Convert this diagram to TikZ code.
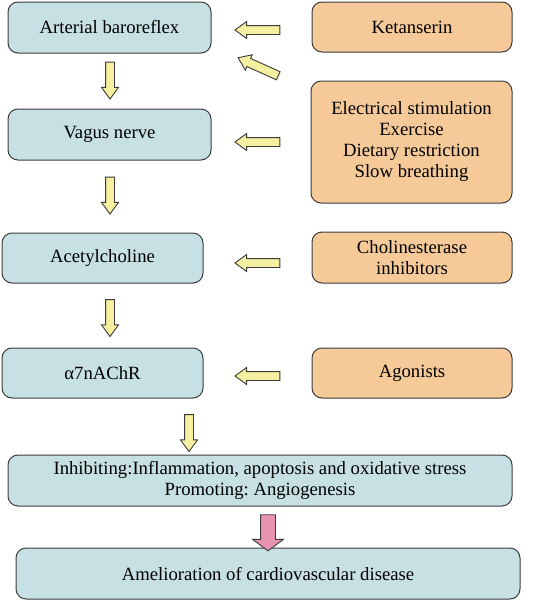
\documentclass[tikz,border=0pt]{standalone}
\usepackage{fontspec}
\setmainfont{Liberation Serif}
\usetikzlibrary{shapes.arrows}
\definecolor{boxblue}{RGB}{199,224,227}
\definecolor{boxorange}{RGB}{245,201,152}
\definecolor{arrowyellow}{RGB}{245,240,160}
\definecolor{arrowpink}{RGB}{230,148,178}
\definecolor{edgegray}{RGB}{60,60,60}
\tikzset{
  basebox/.style={draw=edgegray, line width=1pt, rounded corners=10pt, align=center,
    font=\fontsize{18.7}{21}\selectfont, inner sep=2pt},
  bluebox/.style={basebox, fill=boxblue},
  orangebox/.style={basebox, fill=boxorange},
  blockarr/.style={single arrow, draw=edgegray, line width=0.9pt, fill=arrowyellow,
    inner sep=4pt, single arrow head extend=4pt, single arrow tip angle=72, anchor=center},
  leftarr/.style={blockarr, shape border rotate=180, minimum height=45pt},
  downarr/.style={blockarr, shape border rotate=270, minimum height=37pt},
}
\begin{document}
\frenchspacing
\begin{tikzpicture}[x=1pt,y=-1pt]
\useasboundingbox (0,0) rectangle (533,600);
% left column
\node[bluebox, minimum width=203pt, minimum height=51pt] (baro) at (109.5,27.5) {Arterial baroreflex};
\node[bluebox, minimum width=203pt, minimum height=51pt] (vagus) at (109.5,134.5) {Vagus nerve};
\node[bluebox, minimum width=201pt, minimum height=50pt] (ach) at (102.5,258) {Acetylcholine};
\node[bluebox, minimum width=201pt, minimum height=50pt] (nachr) at (102.5,373) {α7nAChR};
\node[bluebox, minimum width=504pt, minimum height=51pt] (effect) at (260,480.5) {Inhibiting:Inflammation, apoptosis and oxidative stress\\Promoting: Angiogenesis};
\node[bluebox, minimum width=504pt, minimum height=51pt] (amel) at (268,573.5) {Amelioration of cardiovascular disease};
% right column
\node[orangebox, minimum width=200pt, minimum height=50pt] (ket) at (412,27) {Ketanserin};
\node[orangebox, minimum width=201pt, minimum height=122pt] (stim) at (411.5,142) {Electrical stimulation\\Exercise\\Dietary restriction\\Slow breathing};
\node[orangebox, minimum width=200pt, minimum height=51pt] (chol) at (412,257.5) {Cholinesterase\\inhibitors};
\node[orangebox, minimum width=200pt, minimum height=50pt] (agon) at (412,373) {Agonists};
% horizontal / diagonal arrows
\node[leftarr] (a1) at (260.5,30) {};
\node[blockarr, rotate=155.8, minimum height=44pt] (a2) at (261,68) {};
\node[leftarr] (a3) at (260.5,142) {};
\node[leftarr] (a4) at (260.5,263) {};
\node[leftarr] (a5) at (260.5,376) {};
% down arrows
\node[downarr] (d1) at (110,77.5) {};
\node[downarr] (d2) at (110,192.5) {};
\node[downarr] (d3) at (110,315) {};
\node[downarr] (d4) at (189,430) {};
\node[single arrow, draw=edgegray, line width=0.9pt, fill=arrowpink, inner sep=7pt,
  single arrow head extend=8pt, single arrow tip angle=107, shape border rotate=270,
  minimum height=36pt] (p1) at (268,530) {};
\end{tikzpicture}
\end{document}
